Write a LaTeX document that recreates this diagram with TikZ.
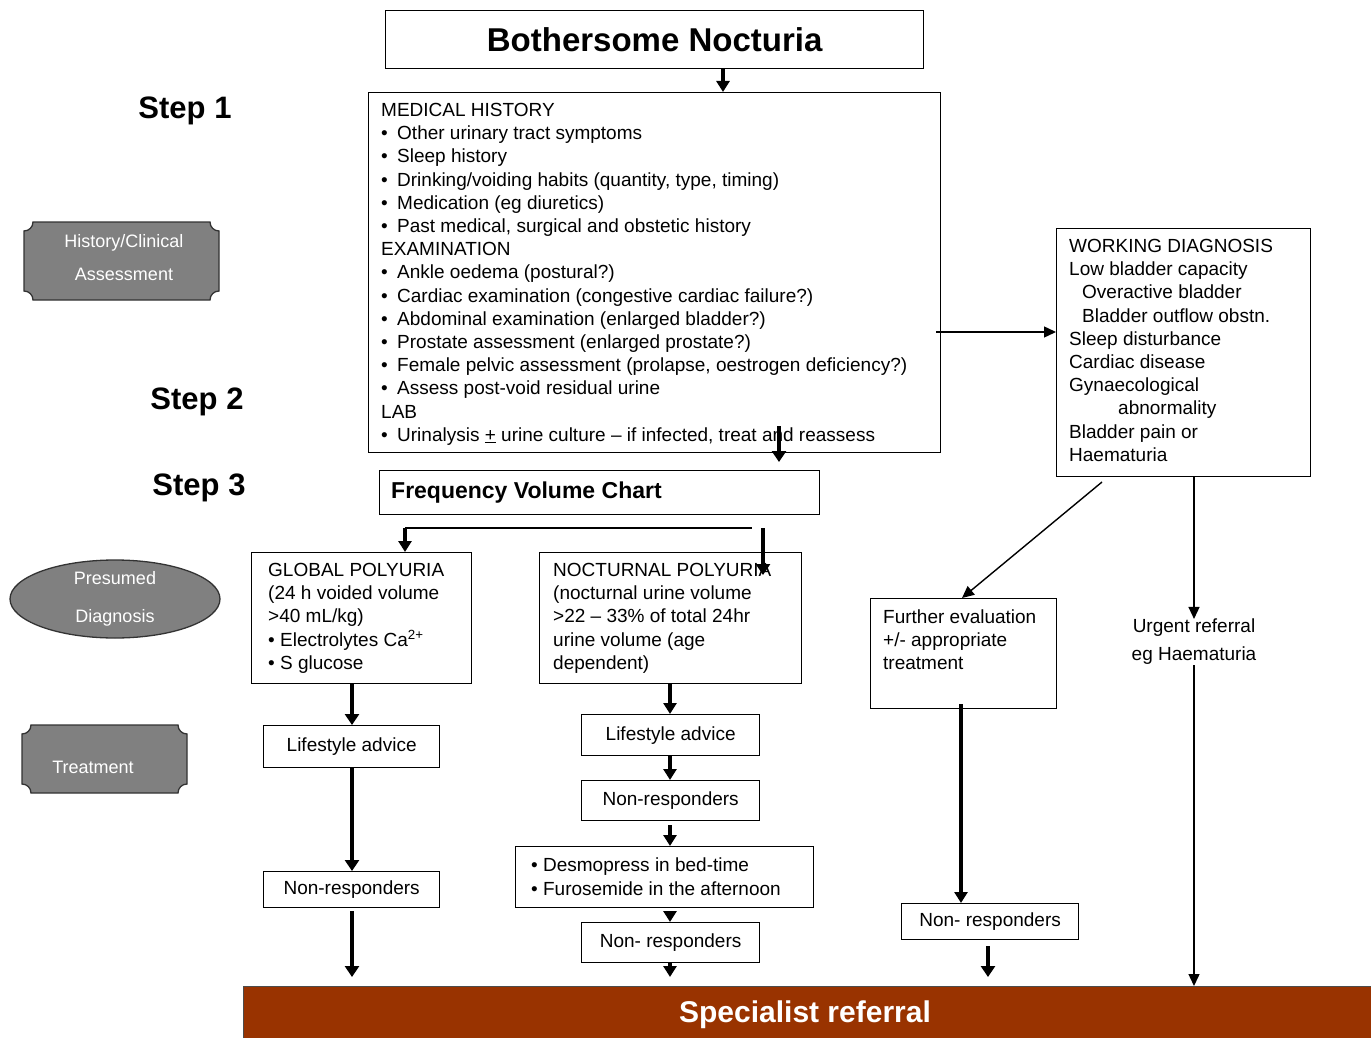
\documentclass[tikz,border=0pt]{standalone}
\usepackage{fontspec}
\setmainfont{Liberation Sans}
\usetikzlibrary{arrows.meta,shapes.geometric,calc}
\definecolor{plq}{HTML}{808080}
\definecolor{specred}{HTML}{993300}
\newcommand\myfs{\fontsize{19}{23.2}\selectfont}
\newcommand\bl{\makebox[16pt][l]{\textbullet}}
\begin{document}
\begin{tikzpicture}[x=1pt,y=-1pt,
 box/.style={draw=black, line width=1.3pt, inner sep=0pt, anchor=north west, font=\myfs},
 txt/.style={inner sep=0pt, anchor=north west, align=left, font=\myfs},
 thk/.style={line width=3.8pt, -{Triangle[length=11pt,width=14pt]}},
 mid/.style={line width=3.2pt, -{Triangle[length=11pt,width=13pt]}},
 thn/.style={line width=1.4pt, -{Triangle[length=12pt,width=11pt]}},
 plaque/.style={fill=plq, draw=black!80, line width=1.3pt},
 gtxt/.style={text=white, inner sep=0pt, align=center},
 steplbl/.style={font=\fontsize{31}{36}\bfseries\selectfont, inner sep=0pt}
]
\useasboundingbox[fill=white] (0,0) rectangle (1371,1038);

% left labels
\node[steplbl] (s1) at (185,111) {Step 1};
\node[steplbl] (s2) at (197,402) {Step 2};
\node[steplbl] (s3) at (199,488) {Step 3};

\path[plaque] (33,222) -- (210,222) .. controls (210,227) and (214,231) .. (219,231) -- (219,291) .. controls (214,291) and (210,295) .. (210,300) -- (33,300) .. controls (33,295) and (29,291) .. (24,291) -- (24,231) .. controls (29,231) and (33,227) .. (33,222) -- cycle;
\node[gtxt, font=\fontsize{18}{33}\selectfont] (hc) at (124,258) {History/Clinical\\Assessment};

\node[ellipse, fill=plq, draw=black!80, line width=1.3pt, minimum width=210pt, minimum height=78pt, inner sep=0pt] (pd) at (115,599) {};
\node[gtxt, font=\fontsize{18}{38}\selectfont] (pdt) at (115,599) {Presumed\\Diagnosis};

\path[plaque] (31,725) -- (178,725) .. controls (178,730) and (182,734) .. (187,734) -- (187,784) .. controls (182,784) and (178,788) .. (178,793) -- (31,793) .. controls (31,788) and (27,784) .. (22,784) -- (22,734) .. controls (27,734) and (31,730) .. (31,725) -- cycle;
\node[gtxt, font=\fontsize{18}{22}\selectfont] (tr) at (93,767) {Treatment};

% main boxes
\node[box, minimum width=538pt, minimum height=58pt, font=\fontsize{33}{36}\bfseries\selectfont] (bn) at (385,10) {Bothersome Nocturia};

\node[box, minimum width=572pt, minimum height=360pt] (med) at (368,92) {};
\node[txt] (medt) at (381,103) {MEDICAL HISTORY\\
\bl Other urinary tract symptoms\\
\bl Sleep history\\
\bl Drinking/voiding habits (quantity, type, timing)\\
\bl Medication (eg diuretics)\\
\bl Past medical, surgical and obstetic history\\
EXAMINATION\\
\bl Ankle oedema (postural?)\\
\bl Cardiac examination (congestive cardiac failure?)\\
\bl Abdominal examination (enlarged bladder?)\\
\bl Prostate assessment (enlarged prostate?)\\
\bl Female pelvic assessment (prolapse, oestrogen deficiency?)\\
\bl Assess post-void residual urine\\
LAB\\
\bl Urinalysis \underline{+} urine culture – if infected, treat and reassess};

\node[box, minimum width=254pt, minimum height=248pt] (work) at (1056,228) {};
\node[txt] (workt) at (1069,239) {WORKING DIAGNOSIS\\
Low bladder capacity\\
\hspace*{13pt}Overactive bladder\\
\hspace*{13pt}Bladder outflow obstn.\\
Sleep disturbance\\
Cardiac disease\\
Gynaecological\\
\hspace*{49pt}abnormality\\
Bladder pain or\\
Haematuria};

\node[box, minimum width=440pt, minimum height=44pt] (freq) at (379,470) {};
\node[inner sep=0pt, anchor=west, font=\fontsize{23}{27}\bfseries\selectfont] (freqt) at (391,493) {Frequency Volume Chart};

\node[box, minimum width=220pt, minimum height=131pt] (glob) at (251,552) {};
\node[txt] (globt) at (268,563) {GLOBAL POLYURIA\\
(24 h voided volume\\
>40 mL/kg)\\
\textbullet\ Electrolytes Ca\textsuperscript{2+}\\
\textbullet\ S glucose};

\node[box, minimum width=262pt, minimum height=131pt] (noct) at (539,552) {};
\node[txt] (noctt) at (553,563) {NOCTURNAL POLYURIA\\
(nocturnal urine volume\\
>22 – 33\% of total 24hr\\
urine volume (age\\
dependent)};

\node[box, minimum width=176pt, minimum height=42pt] (lsl) at (263,725) {Lifestyle advice};
\node[box, minimum width=176pt, minimum height=36pt] (nrl) at (263,871) {Non-responders};

\node[box, minimum width=178pt, minimum height=41pt] (lsm) at (581,714) {Lifestyle advice};
\node[box, minimum width=178pt, minimum height=40pt] (nrm1) at (581,780) {Non-responders};
\node[box, minimum width=298pt, minimum height=61pt] (desmo) at (515,846) {};
\node[txt, font=\fontsize{19}{24}\selectfont] (desmot) at (531,858) {\textbullet\ Desmopress in bed-time\\
\textbullet\ Furosemide in the afternoon};
\node[box, minimum width=178pt, minimum height=40pt] (nrm2) at (581,922) {Non- responders};

\node[box, minimum width=186pt, minimum height=110pt] (further) at (870,598) {};
\node[txt, font=\fontsize{19}{23}\selectfont] (furthert) at (883,610) {Further evaluation\\
+/- appropriate\\
treatment};
\node[box, minimum width=177pt, minimum height=36pt] (nrr) at (901,903) {Non- responders};

\node[inner sep=0pt, align=center, font=\fontsize{19}{28}\selectfont] (urg) at (1194,642) {Urgent referral\\eg Haematuria};

\node[anchor=north west, fill=specred, draw=black!70, line width=1pt, minimum width=1128pt, minimum height=52pt, inner sep=0pt] (sr) at (243,986) {};
\node[inner sep=0pt, text=white, font=\fontsize{30}{34}\bfseries\selectfont] (srt) at (805,1015) {Specialist referral};

% helper coordinates
\coordinate (xbn) at (723,0);
\coordinate (xmf) at (779,0);
\coordinate (ymw) at (0,332);
\coordinate (fa) at (405,528);
\coordinate (fb) at (752,528);
\coordinate (fc) at (763,528);
\coordinate (fd) at (763,575);
\coordinate (xl) at (352,0);
\coordinate (xm) at (670,0);
\coordinate (da) at (1102,482);
\coordinate (xd) at (962,0);
\coordinate (xr) at (961,0);
\coordinate (xr2) at (988,0);

% connectors
\draw[mid] (bn.south -| xbn) -- (med.north -| xbn);
\draw[thk, shorten >=8pt] ($(med.south -| xmf)+(0,-27)$) -- (freq.north -| xmf);
\draw[thn] ($(med.east |- ymw)+(-5,0)$) -- (work.west |- ymw);
\draw[line width=2pt] (fa) -- (fb);
\draw[mid] (fa) -- (glob.north -| fa);
\draw[thk] (fc) -- (fd);

\draw[thk] (glob.south -| xl) -- (lsl.north -| xl);
\draw[thk] (lsl.south -| xl) -- (nrl.north -| xl);
\draw[thk, shorten <=3pt, shorten >=9pt] (nrl.south -| xl) -- (sr.north -| xl);

\draw[mid] (noct.south -| xm) -- (lsm.north -| xm);
\draw[mid] (lsm.south -| xm) -- (nrm1.north -| xm);
\draw[mid, shorten <=4pt] (nrm1.south -| xm) -- (desmo.north -| xm);
\draw[mid, shorten <=3pt] (desmo.south -| xm) -- (nrm2.north -| xm);
\draw[mid, shorten >=9pt] (nrm2.south -| xm) -- (sr.north -| xm);

\draw[thn] (da) -- (further.north -| xd);
\draw[mid] ($(further.south -| xr)+(0,-5)$) -- (nrr.north -| xr);
\draw[thk, shorten <=6pt, shorten >=9pt] (nrr.south -| xr2) -- (sr.north -| xr2);

\draw[thn] (work.south -| urg.north) -- (urg.north);
\draw[thn] (urg.south) -- (sr.north -| urg.south);
\end{tikzpicture}
\end{document}
